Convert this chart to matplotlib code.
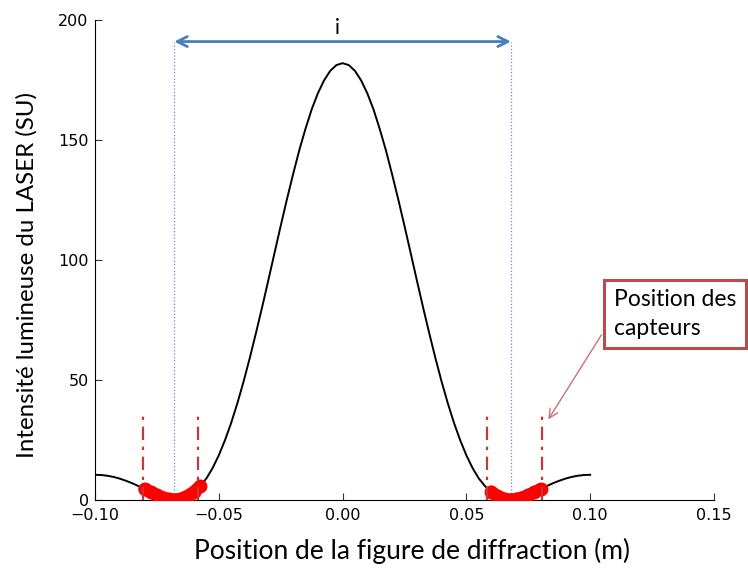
import numpy as np
import matplotlib.pyplot as plt

# Diffraction profile of the laser (position in m, intensity in SU)
position = np.linspace(-0.1, 0.1, 81)
intensite = np.array([
    10.5, 10.4, 10.1, 9.6, 8.9, 8.0, 7.0, 5.8, 4.5, 3.2,
    2.0, 1.0, 0.3, 0.1, 0.6, 1.7, 3.4, 5.8, 9.0, 13.3,
    18.6, 24.9, 32.1, 40.3, 49.3, 59.1, 69.5, 80.3, 91.5, 102.9,
    114.2, 125.2, 135.7, 145.7, 154.6, 162.7, 169.4, 174.8, 178.8, 181.2,
    182.0,
    181.2, 178.8, 174.8, 169.4, 162.7, 154.6, 145.7, 135.7, 125.2, 114.2,
    102.9, 91.5, 80.3, 69.5, 59.1, 49.3, 40.3, 32.1, 24.9, 18.6,
    13.3, 9.0, 5.8, 3.4, 1.7, 0.6, 0.1, 0.3, 1.0, 2.0,
    3.2, 4.5, 5.8, 7.0, 8.0, 8.9, 9.6, 10.1, 10.4, 10.5,
])

# Sensor edges and first minima (interfringe i)
capteurs = [-0.0805, -0.0585, 0.0585, 0.0805]
hauteur_capteurs = 37
minima = [-0.068, 0.068]
hauteur_fleche = 191

fig = plt.figure(figsize=(7.48, 5.69), dpi=100)
ax = fig.add_axes([0.127, 0.1213, 0.8275, 0.8436])

ax.plot(position, intensite, color="black", lw=1.4, zorder=3)

# points seen by the sensors
zone = (np.abs(position) >= 0.0575) & (np.abs(position) <= 0.0805)
for cote in (position < 0, position > 0):
    m = zone & cote
    ax.plot(position[m], intensite[m], color="red", lw=9, solid_capstyle="round", zorder=4)
    ax.plot(position[m], intensite[m], "o", color="red", ms=9, mec="red", zorder=4)

for c in capteurs:
    ax.plot([c, c], [0, hauteur_capteurs], color="#c0393b", lw=1.6,
            linestyle=(0, (6, 3, 1.5, 3)), zorder=5)

for m in minima:
    ax.plot([m, m], [0, hauteur_fleche], color="#5b8fd0", lw=0.9, linestyle=":", zorder=2)

ax.annotate("", xy=(minima[0], hauteur_fleche), xytext=(minima[1], hauteur_fleche),
            arrowprops=dict(arrowstyle="<->", color="#4a7ebb", lw=2,
                            mutation_scale=18, shrinkA=0, shrinkB=0))
ax.text(-0.002, 196.5, "i", fontsize=15, family="Lato", ha="center", va="center")

ax.annotate("Position des\ncapteurs", xy=(0.0825, 32.6), xytext=(0.1095, 77.5),
            fontsize=16.5, family="Lato", ha="left", va="center", linespacing=1.45,
            bbox=dict(boxstyle="square,pad=0.42", fc="white", ec="#b84c4c", lw=2.2),
            arrowprops=dict(arrowstyle="->", color="#c77474", lw=1,
                            mutation_scale=16, relpos=(0, 0.47)),
            annotation_clip=False)

ax.set_xlim(-0.1, 0.15)
ax.set_ylim(0, 200)
ax.set_xticks([-0.10, -0.05, 0.00, 0.05, 0.10, 0.15])
ax.set_yticks([0, 50, 100, 150, 200])
ax.set_xticklabels(["\u22120.10", "\u22120.05", "0.00", "0.05", "0.10", "0.15"])
ax.spines["top"].set_visible(False)
ax.spines["right"].set_visible(False)
ax.tick_params(direction="in", length=5, labelsize=11.5, color="#333333")
ax.tick_params(axis="x", pad=5.5)
ax.tick_params(axis="y", pad=4.5)

ax.set_xlabel("Position de la figure de diffraction (m)", fontsize=19, family="Lato")
ax.set_ylabel("Intensité lumineuse du LASER (SU)", fontsize=17.3, family="Lato")
ax.xaxis.set_label_coords(0.512, -0.08)
ax.yaxis.set_label_coords(-0.092, 0.469)

fig.savefig("out.png", dpi=100)
